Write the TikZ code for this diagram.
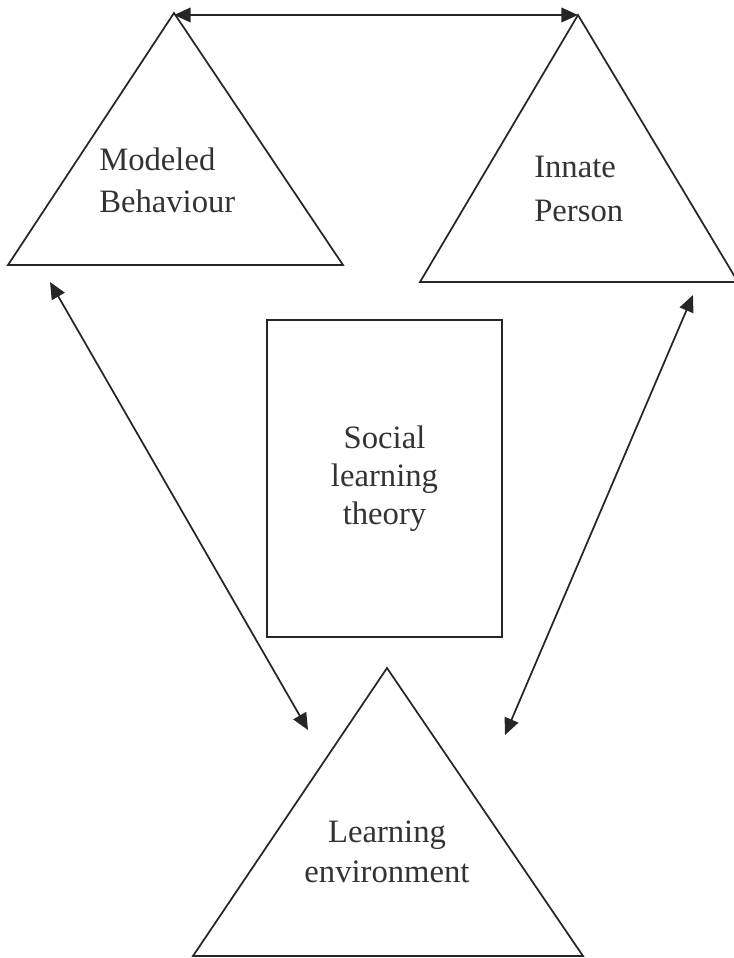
\documentclass[tikz,border=0pt]{standalone}
\usepackage{fontspec}
\setmainfont{Liberation Serif}
\usetikzlibrary{arrows.meta}
\begin{document}
\begin{tikzpicture}[x=0.75pt,y=-0.75pt,
  shapeline/.style={line width=1.3pt, line join=miter, draw=black!85},
  link/.style={line width=1.3pt, draw=black!85,
    {Triangle[length=12.5pt,width=11pt]}-{Triangle[length=12.5pt,width=11pt]}},
  lbl/.style={inner sep=0pt, text=black!80}]
\useasboundingbox (0,0) rectangle (734,958);
% triangle corners
\coordinate (t1a) at (174,13);
\coordinate (t1l) at (8,265);
\coordinate (t1r) at (343,265);
\coordinate (t2a) at (578,15);
\coordinate (t2l) at (420,282);
\coordinate (t2r) at (738,282);
\coordinate (t3a) at (387,668);
\coordinate (t3l) at (193,956);
\coordinate (t3r) at (583,956);
\draw[shapeline] (t1a) -- (t1r) -- (t1l) -- cycle;
\draw[shapeline] (t2a) -- (t2r) -- (t2l) -- cycle;
\draw[shapeline] (t3a) -- (t3r) -- (t3l) -- cycle;
% centre box
\node[draw=black!85, line width=1.3pt, minimum width=176.25pt, minimum height=237.75pt,
  inner sep=0pt, align=center, text=black!80,
  font=\fontsize{24.5}{28.5}\selectfont] (slt) at (384.5,478.5)
  {Social\\learning\\theory};
% labels
\node[lbl, anchor=north west, align=left, font=\fontsize{24.5}{31.5}\selectfont]
  (mb) at (99,148) {Modeled\\Behaviour};
\node[lbl, anchor=north west, align=left, font=\fontsize{24.5}{33}\selectfont]
  (ip) at (534,156) {Innate\\Person};
\node[lbl, anchor=north, align=center, font=\fontsize{24.5}{30}\selectfont]
  (le) at (387,821) {Learning\\environment};
% arrow end points
\coordinate (la) at (50,282);
\coordinate (lb) at (308,730);
\coordinate (ra) at (693,295);
\coordinate (rb) at (505,735);
\draw[link] (t1a |- 0,15) -- (t2a |- 0,15);
\draw[link] (la) -- (lb);
\draw[link] (ra) -- (rb);
\end{tikzpicture}
\end{document}
